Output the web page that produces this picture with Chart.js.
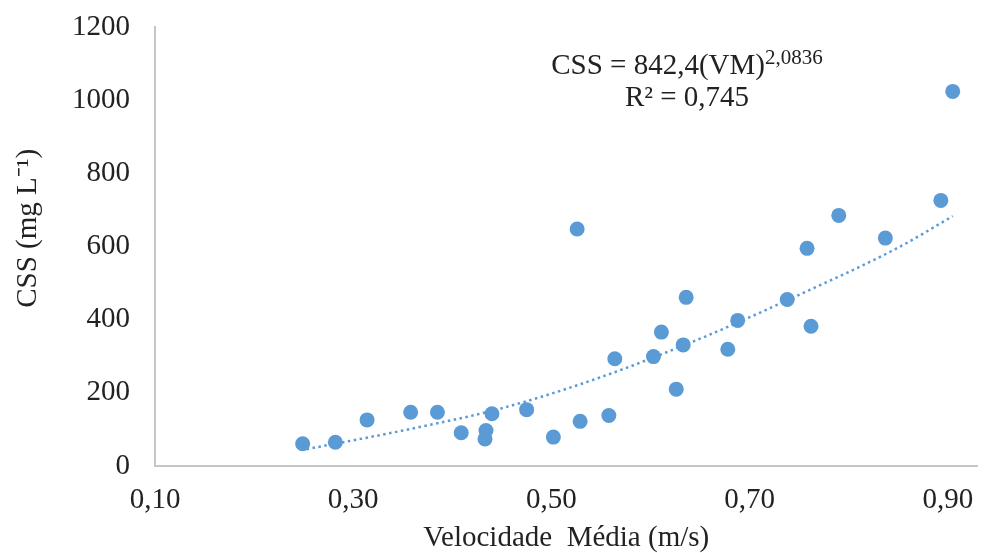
<!DOCTYPE html>
<html>
<head>
<meta charset="utf-8">
<script src="https://cdn.jsdelivr.net/npm/chart.js@4/dist/chart.umd.min.js"></script>
<style>
  body { margin: 0; background: #fff; }
  #wrap { position: relative; width: 985px; height: 553px; }
  #eq {
    position: absolute; left: 537px; top: 50px; width: 300px;
    font-family: 'Liberation Serif', serif; font-size: 29px; line-height: 29px;
    color: #222; text-align: center; white-space: nowrap;
  }
  #eq .sup { font-size: 21px; position: relative; top: -10px; }
</style>
</head>
<body>
<div id="wrap">
  <canvas id="chart" width="985" height="553"></canvas>
  <div id="eq">CSS = 842,4(VM)<span class="sup">2,0836</span><br>R² = 0,745</div>
</div>
<script>
// velocidade media (m/s) e CSS (mg/L)
var velocidade = [0.249, 0.282, 0.314, 0.358, 0.385, 0.409, 0.434, 0.433, 0.440, 0.475,
                  0.502, 0.529, 0.558, 0.526, 0.564, 0.603, 0.611, 0.626, 0.633, 0.636,
                  0.678, 0.688, 0.738, 0.758, 0.762, 0.790, 0.837, 0.893, 0.905]
var css = [61, 65, 126, 147, 147, 91, 97, 74, 143, 154,
           79, 122, 138, 648, 293, 299, 366, 210, 331, 461,
           319, 398, 455, 595, 382, 685, 623, 726, 1024]

// linha de tendencia (pontilhada)
var tendX = [0.253, 0.35, 0.45, 0.55, 0.65, 0.75, 0.85, 0.905]
var tendY = [46, 97, 158, 243, 348, 468, 597, 683]

var xTicks = [0.10, 0.30, 0.50, 0.70, 0.90]
var yTicks = [0, 200, 400, 600, 800, 1000, 1200]

var azul = '#5B9BD5'
var fonte = 'Liberation Serif'

function pares(xs, ys) {
    return xs.map(function (x, i) { return { x: x, y: ys[i] } })
}

var ctx = document.getElementById('chart').getContext('2d')
var myChart = new Chart(ctx, {
    type: 'scatter',
    data: {
        datasets: [{
            label: 'CSS',
            data: pares(velocidade, css),
            backgroundColor: azul,
            borderWidth: 0,
            pointRadius: 7.5,
            pointHoverRadius: 7.5
        }, {
            label: 'Tendencia',
            data: pares(tendX, tendY),
            showLine: true,
            borderColor: azul,
            borderWidth: 2.5,
            borderDash: [2.5, 3.5],
            cubicInterpolationMode: 'monotone',
            pointRadius: 0,
            fill: false
        }]
    },
    options: {
        responsive: false,
        animation: false,
        devicePixelRatio: 1,
        layout: { padding: { top: 27, right: 0, left: 0, bottom: 0 } },
        plugins: { legend: { display: false }, tooltip: { enabled: false } },
        scales: {
            x: {
                type: 'linear',
                min: 0.10,
                max: 0.930,
                afterBuildTicks: function (scale) {
                    scale.ticks = xTicks.map(function (v) { return { value: v } })
                },
                afterFit: function (scale) {
                    scale.height = 87
                    scale.paddingLeft = 0
                    scale.paddingRight = 0
                },
                grid: { display: false, drawTicks: false },
                border: { display: true, color: '#C6C6C6', width: 2 },
                ticks: {
                    padding: 17,
                    color: '#222',
                    font: { family: fonte, size: 29 },
                    maxRotation: 0,
                    callback: function (v) { return v.toFixed(2).replace('.', ',') }
                },
                title: {
                    display: true,
                    text: 'Velocidade  Média (m/s)',
                    color: '#222',
                    font: { family: fonte, size: 29, lineHeight: 1 },
                    padding: { top: 0, bottom: 0 }
                }
            },
            y: {
                min: 0,
                max: 1200,
                afterBuildTicks: function (scale) {
                    scale.ticks = yTicks.map(function (v) { return { value: v } })
                },
                afterFit: function (scale) {
                    scale.width = 155
                    scale.paddingTop = 0
                    scale.paddingBottom = 0
                },
                grid: { display: false, drawTicks: false },
                border: { display: true, color: '#C6C6C6', width: 2 },
                ticks: {
                    padding: 25,
                    color: '#222',
                    font: { family: fonte, size: 29 },
                    callback: function (v) { return String(v) }
                },
                title: {
                    display: true,
                    // espacos iniciais sobem o titulo, como no original
                    text: '     CSS (mg L⁻¹)',
                    color: '#222',
                    font: { family: fonte, size: 29, lineHeight: 1.2 },
                    padding: { top: 11, bottom: 0 }
                }
            }
        }
    }
})
</script>
</body>
</html>
